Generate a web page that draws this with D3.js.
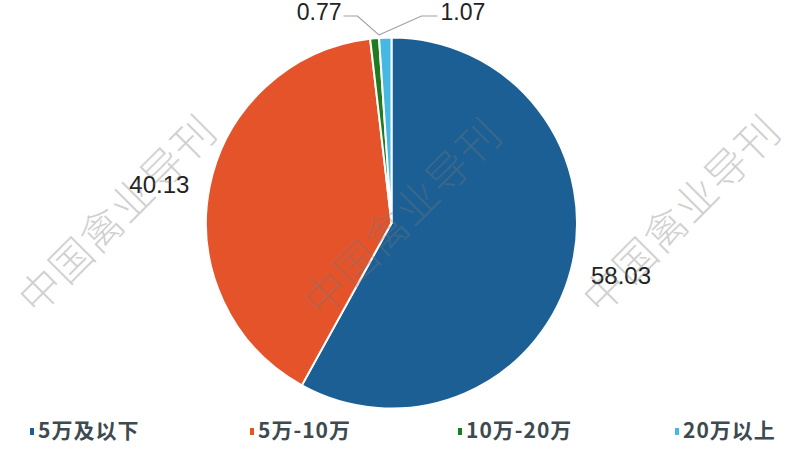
<!DOCTYPE html>
<html><head><meta charset="utf-8">
<script src="https://cdn.jsdelivr.net/npm/d3@7"></script>
<style>body{margin:0;background:#fff}svg{display:block}</style>
</head><body>
<svg id="c" width="800" height="450"></svg>
<script>
const categories = ["5万及以下", "5万-10万", "10万-20万", "20万以上"];
const values = [58.03, 40.13, 0.77, 1.07];
const colors = ["#1b5f94", "#e5532b", "#1e7b1e", "#45b9e1"];
const watermarkText = "中国禽业导刊";

const svg = d3.select("#c");
const cx = 391.5, cy = 223, R = 185.5;
const g = svg.append("g").attr("transform", `translate(${cx},${cy})`);
const data = categories.map((c, i) => ({c, v: values[i], col: colors[i]}));
const pie = d3.pie().sort(null).value(d => d.v);
const arcs = pie(data);
const arc = d3.arc().innerRadius(0).outerRadius(R);

g.selectAll("path.s").data(arcs).join("path").attr("class","s")
  .attr("d", arc).attr("fill", d => d.data.col)
  .attr("stroke", "#fff").attr("stroke-width", 2).attr("stroke-linejoin","round");

const labelFont = "'Liberation Sans', Arial, sans-serif";
// large slice labels
const big = arcs.filter(a => a.data.v > 5);
const lArc = d3.arc().innerRadius(206).outerRadius(206);
g.selectAll("text.big").data(big).join("text").attr("class","big")
  .attr("x", d => lArc.centroid(d)[0])
  .attr("y", d => lArc.centroid(d)[1] + 3)
  .attr("text-anchor", d => ((d.startAngle + d.endAngle)/2 < Math.PI) ? "start" : "end")
  .attr("dominant-baseline", "middle")
  .attr("font-family", labelFont).attr("font-size", 24).attr("fill", "#222")
  .text(d => d.data.v.toFixed(2));

// small slice labels with leader lines, meeting at the shared slice boundary
const small = arcs.filter(a => a.data.v <= 5);
const joinAngle = small[0].endAngle;
const p0 = [ (R+3)*Math.sin(joinAngle), -(R+3)*Math.cos(joinAngle) ];
small.forEach((d, i) => {
  const left = i === 0;
  const elbow = [ left ? -34 : 30, 16 - cy ];
  const end = [ left ? -48 : 46, 16 - cy ];
  g.append("polyline")
    .attr("points", [p0, elbow, end].map(p => p.join(",")).join(" "))
    .attr("fill", "none").attr("stroke", "#a0a0a0").attr("stroke-width", 1.2);
  g.append("text")
    .attr("x", end[0] + (left ? -2 : 3)).attr("y", end[1] - 2)
    .attr("text-anchor", left ? "end" : "start")
    .attr("dominant-baseline", "middle")
    .attr("font-family", labelFont).attr("font-size", 23).attr("fill", "#222")
    .text(d.data.v.toFixed(2));
});

// legend
const legendX = [30, 250, 458, 675];
const lg = svg.append("g");
data.forEach((d, i) => {
  lg.append("rect").attr("x", legendX[i]).attr("y", 428).attr("width", 4).attr("height", 7).attr("fill", d.col);
  lg.append("text").attr("x", legendX[i] + 8).attr("y", 432)
    .attr("dominant-baseline", "middle")
    .attr("font-family", "'Noto Sans CJK SC', 'Liberation Sans', sans-serif")
    .attr("font-size", 21).attr("font-weight", 700).attr("letter-spacing", 1).attr("fill", "#3d4a4f")
    .text(d.c);
});

// watermarks
const wm = [[120, 217], [405, 220], [684, 217]];
wm.forEach(p => {
  svg.append("text")
    .attr("transform", `translate(${p[0]},${p[1]}) rotate(-45)`)
    .attr("text-anchor", "middle").attr("dominant-baseline", "middle")
    .attr("font-family", "'Noto Sans CJK SC', sans-serif").attr("font-weight", 300)
    .attr("font-size", 42).attr("letter-spacing", 1)
    .attr("fill", "#777").attr("fill-opacity", 0.34)
    .text(watermarkText);
});
</script>
</body></html>
